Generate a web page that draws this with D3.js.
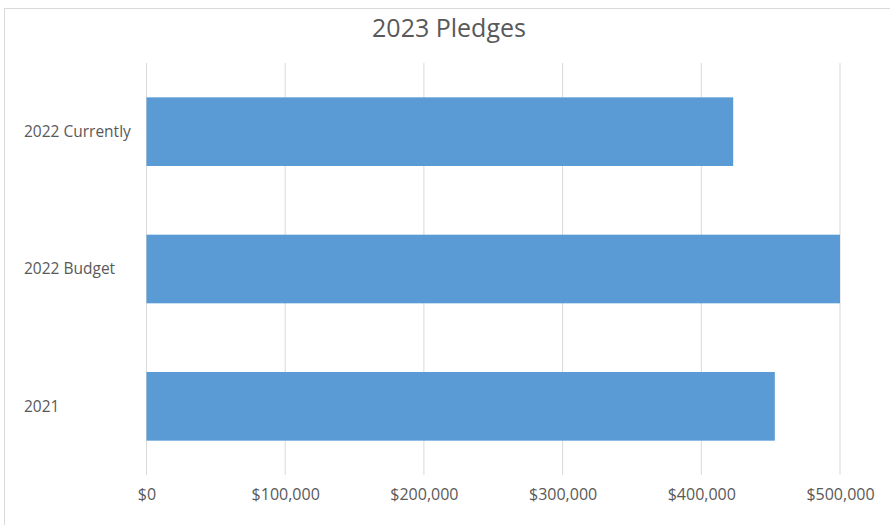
<!DOCTYPE html>
<html>
<head>
<script src="https://d3js.org/d3.v7.min.js"></script>
<style>
  body { margin: 0; background: #fff; }
  text { font-family: "Open Sans", "Noto Sans", sans-serif; fill: #595959; }
</style>
</head>
<body>
<div id="chart"></div>
<script>
var categories = ["2022 Currently", "2022 Budget", "2021"];
var pledges = [423000, 500000, 453000];
var tickValues = [0, 100000, 200000, 300000, 400000, 500000];

var width = 890, height = 525;
var plotLeft = 146.5, plotRight = 840, plotTop = 63, plotBottom = 475;

var svg = d3.select("#chart").append("svg")
  .attr("width", width)
  .attr("height", height);

// chart border
svg.append("rect")
  .attr("x", 4.5).attr("y", 8.5)
  .attr("width", width + 10).attr("height", height)
  .attr("fill", "none")
  .attr("stroke", "#d9d9d9");

var x = d3.scaleLinear().domain([0, 500000]).range([plotLeft, plotRight]);
var y = d3.scaleBand().domain(categories).range([plotTop, plotBottom])
  .paddingInner(0.5).paddingOuter(0.25);

// gridlines
svg.append("g")
  .selectAll("line")
  .data(tickValues)
  .enter()
  .append("line")
  .attr("x1", function (d) { return x(d); })
  .attr("x2", function (d) { return x(d); })
  .attr("y1", plotTop)
  .attr("y2", plotBottom)
  .attr("stroke", "#d9d9d9")
  .attr("stroke-width", 1);

// bars
svg.append("g")
  .selectAll("rect")
  .data(categories)
  .enter()
  .append("rect")
  .attr("x", x(0))
  .attr("y", function (d) { return y(d); })
  .attr("width", function (d, i) { return x(pledges[i]) - x(0); })
  .attr("height", y.bandwidth())
  .attr("fill", "#5b9bd5");

// x axis
var xAxis = svg.append("g")
  .attr("transform", "translate(0," + plotBottom + ")")
  .call(d3.axisBottom(x)
    .tickValues(tickValues)
    .tickSize(0)
    .tickPadding(14)
    .tickFormat(function (d) { return "$" + d3.format(",")(d); }));
xAxis.select(".domain").remove();
xAxis.selectAll("text")
  .attr("font-size", "16px")
  .style("font-family", "\"Open Sans\", sans-serif")
  .attr("fill", "#595959");

// category labels
svg.append("g")
  .selectAll("text")
  .data(categories)
  .enter()
  .append("text")
  .attr("x", 24)
  .attr("y", function (d) { return y(d) + y.bandwidth() / 2; })
  .attr("dy", "0.35em")
  .attr("font-size", "15.5px")
  .text(function (d) { return d; });

// title
svg.append("text")
  .attr("x", 449)
  .attr("y", 37)
  .attr("text-anchor", "middle")
  .attr("font-size", "25px")
  .text("2023 Pledges");
</script>
</body>
</html>
